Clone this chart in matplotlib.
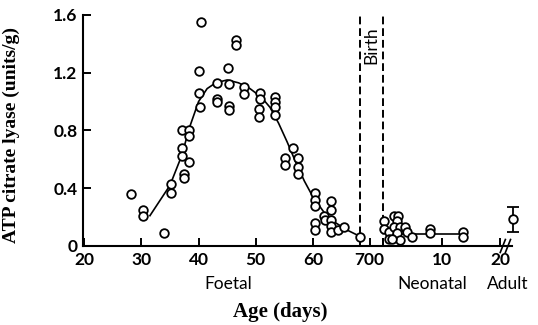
import matplotlib
matplotlib.use('Agg')
import matplotlib.pyplot as plt
import matplotlib.transforms as mtransforms
import numpy as np

# foetal age (days) and activity (units/g)
foetal_days = [28.2, 30.3, 30.3, 34.0, 35.1, 35.2, 37.1, 37.1, 37.1, 37.4, 37.4,
               38.4, 38.4, 38.3, 40.5, 40.0, 40.0, 40.2, 43.3, 43.3, 43.3,
               45.1, 45.3, 45.3, 45.3, 46.5, 46.5, 47.9, 47.9, 50.8, 50.8,
               50.6, 50.6, 53.3, 53.3, 53.3, 53.3, 56.5, 55.2, 55.2, 57.4,
               57.4, 57.4, 60.4, 60.4, 60.4, 60.3, 60.3, 62.0, 62.1, 63.2,
               63.2, 63.2, 63.2, 63.2, 64.3, 65.4, 68.3]
foetal_vals = [0.36, 0.25, 0.21, 0.09, 0.43, 0.37, 0.80, 0.68, 0.62, 0.50, 0.47,
               0.80, 0.76, 0.58, 1.55, 1.21, 1.06, 0.96, 1.13, 1.02, 1.00,
               1.23, 1.12, 0.97, 0.94, 1.43, 1.39, 1.10, 1.05, 1.06, 1.02,
               0.95, 0.89, 1.03, 1.00, 0.96, 0.91, 0.68, 0.61, 0.56, 0.61,
               0.55, 0.50, 0.37, 0.32, 0.28, 0.16, 0.11, 0.21, 0.18, 0.31,
               0.25, 0.18, 0.14, 0.10, 0.11, 0.13, 0.065]

# fitted curve (foetal)
curve_days = [31.5, 33, 35, 37, 38.5, 40, 41.5, 43, 45, 47, 49, 51, 52.5, 54,
              55.5, 57, 58.5, 60, 62, 64, 66, 68.3]
curve_vals = [0.21, 0.30, 0.42, 0.62, 0.83, 1.00, 1.09, 1.13, 1.15, 1.13, 1.09,
              1.03, 0.96, 0.85, 0.72, 0.58, 0.45, 0.34, 0.23, 0.16, 0.11, 0.065]

# neonatal age (days after birth)
neo_days = [0.1, 0.1, 0.9, 0.9, 1.8, 2.6, 2.3, 1.8, 2.9, 2.4, 2.9, 3.8, 4.0,
            1.5, 4.9, 8.0, 8.0, 13.7, 13.7]
neo_vals = [0.17, 0.12, 0.10, 0.05, 0.21, 0.21, 0.17, 0.13, 0.13, 0.09, 0.04,
            0.13, 0.10, 0.05, 0.065, 0.12, 0.09, 0.10, 0.065]
neo_line_days = [2.0, 13.7]
neo_line_vals = [0.08, 0.08]

# adult mean and error bar
adult_mean = 0.19
adult_err_lo = 0.09
adult_err_hi = 0.08

birth_foetal = 68.2
foetal_ticks = [20, 30, 40, 50, 60, 70]
neo_ticks = [0, 10, 20]
y_ticks = [0, 0.4, 0.8, 1.2, 1.6]
y_ticklabels = ['0', '0.4', '0.8', '1.2', '1.6']


def neo_pos(n):
    # neonatal days sit on their own scale right of birth
    return 72.3 + np.asarray(n) * 1.02


adult_pos = 95.0

fig = plt.figure(figsize=(5.38, 3.25), dpi=100)
ax = fig.add_axes([0.1543, 0.2431, 0.826, 0.7108])

ax.plot(curve_days, curve_vals, color='k', lw=1.2, zorder=2)
ax.plot(neo_pos(neo_line_days), neo_line_vals, color='k', lw=1.2, zorder=2)

mk = dict(marker='o', ls='none', ms=6.2, mfc='white', mec='k', mew=1.3, zorder=3)
ax.plot(foetal_days, foetal_vals, **mk)
ax.plot(neo_pos(neo_days), neo_vals, **mk)
ax.errorbar([adult_pos], [adult_mean], yerr=[[adult_err_lo], [adult_err_hi]],
            fmt='o', ms=6.2, mfc='white', mec='k', mew=1.3, ecolor='k',
            elinewidth=1.3, capsize=4, capthick=1.3, zorder=3, clip_on=False)

# birth dashed lines
for xb in [birth_foetal, float(neo_pos(0))]:
    ax.plot([xb, xb], [0, 1.61], color='k', lw=1.4, ls=(0, (4, 2)),
            clip_on=False, zorder=1)
ax.text((birth_foetal + float(neo_pos(0))) / 2, 1.39, 'Birth', rotation=90,
        ha='center', va='center', fontsize=12.5, family='Lato')

ax.set_xlim(19.8, 97.5)
ax.set_ylim(0, 1.6)

for s in ['top', 'right']:
    ax.spines[s].set_visible(False)
ax.spines['left'].set_linewidth(1.5)
ax.spines['bottom'].set_linewidth(1.5)
ax.spines['bottom'].set_bounds(19.8, 94.8)

# axis break marks
for xb in [93.2, 94.1]:
    ax.plot([xb - 0.45, xb + 0.45], [-0.045, 0.045], color='k', lw=1.2,
            clip_on=False)

xt = list(foetal_ticks) + list(neo_pos(neo_ticks))
ax.set_xticks(xt)
ax.set_xticklabels([str(t) for t in foetal_ticks] + [str(t) for t in neo_ticks])
ax.set_yticks(y_ticks)
ax.set_yticklabels(y_ticklabels)
ax.tick_params(direction='in', length=6, width=1.4, labelsize=12.5, pad=4)
for lab in ax.get_xticklabels() + ax.get_yticklabels():
    lab.set_family('Lato')
    lab.set_weight('bold')

labs = ax.get_xticklabels()
for i, dx in [(5, -6), (6, -5)]:
    off = mtransforms.ScaledTranslation(dx / 100, 0, fig.dpi_scale_trans)
    labs[i].set_transform(labs[i].get_transform() + off)

ax.set_ylabel('ATP citrate lyase (units/g)', family='Liberation Serif',
              weight='bold', fontsize=14)
ax.yaxis.set_label_coords(-0.142, 0.48)

fig.text(228 / 538, 1 - 284 / 325, 'Foetal', ha='center', va='center',
         fontsize=12.5, family='Lato')
fig.text(432 / 538, 1 - 284 / 325, 'Neonatal', ha='center', va='center',
         fontsize=12.5, family='Lato')
fig.text(508 / 538, 1 - 284 / 325, 'Adult', ha='center', va='center',
         fontsize=12.5, family='Lato')
fig.text(280 / 538, 1 - 312 / 325, 'Age (days)', ha='center', va='center',
         fontsize=15, family='Liberation Serif', weight='bold')

fig.savefig('out.png', dpi=100)
